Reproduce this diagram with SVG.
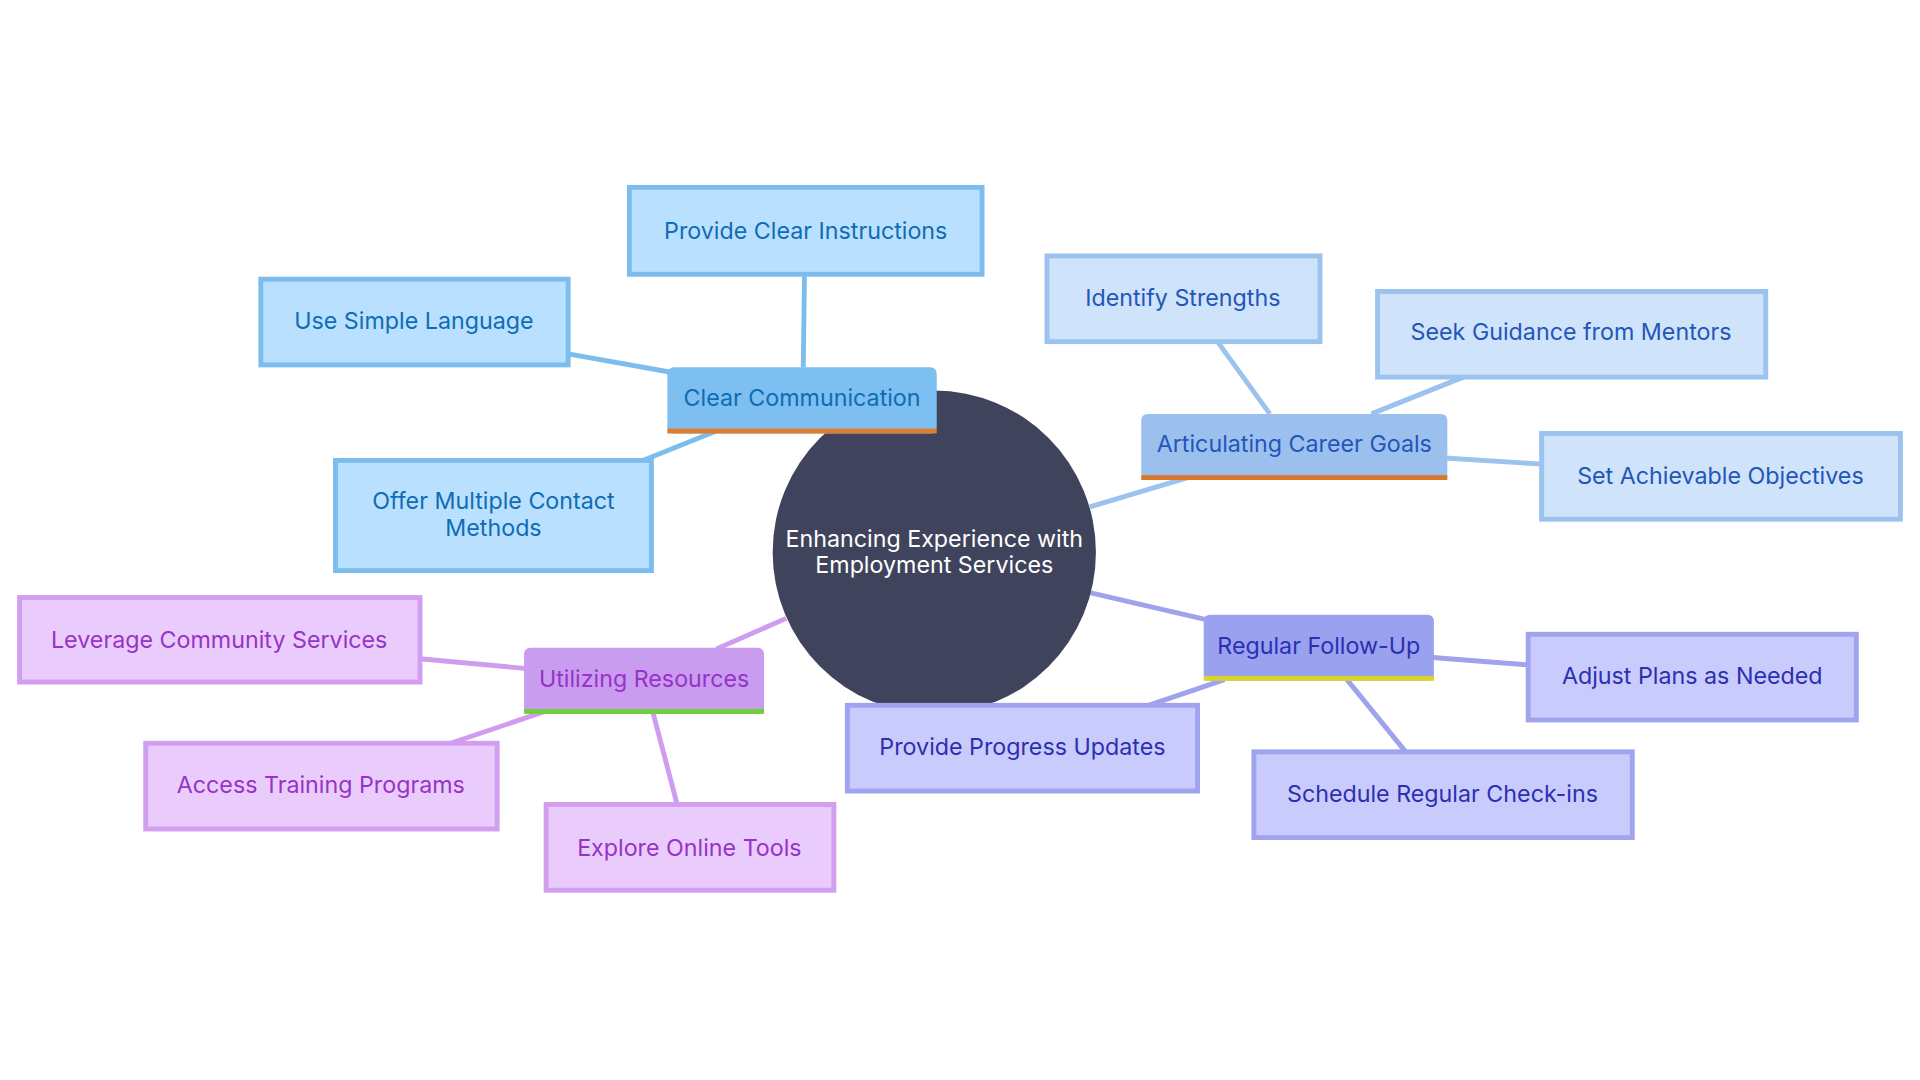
<svg xmlns="http://www.w3.org/2000/svg" width="1920" height="1080" viewBox="0 0 1920 1080">
<style>
text{font-family:Inter,"Noto Sans",sans-serif;font-size:19px;text-anchor:middle;dominant-baseline:central}
.e{stroke-width:4;fill:none}
.b{stroke:#7cbdee}.bl{stroke:#9cc2ee}.p{stroke:#9ea3ec}.v{stroke:#cf9cf0}
.lb rect{fill:#b9e1ff;stroke:#7cbdee;stroke-width:4}.lb text{fill:#0f6cb5}
.ll rect{fill:#cfe3fb;stroke:#9cc2ee;stroke-width:4}.ll text{fill:#2356b8}
.lp rect{fill:#c9cbfd;stroke:#a0a4ee;stroke-width:4}.lp text{fill:#2b30b0}
.lv rect{fill:#eaccfc;stroke:#d19ef0;stroke-width:4}.lv text{fill:#9633c8}
</style>
<rect width="1920" height="1080" fill="#fff"/>
<g transform="scale(1.2245)">
<g id="connectors">
<line class="e b" x1="763" y1="451" x2="655" y2="327"/>
<line class="e b" x1="525" y1="376" x2="590" y2="350"/>
<line class="e b" x1="464" y1="289" x2="548" y2="304"/>
<line class="e b" x1="657" y1="224" x2="656" y2="300"/>
<line class="e bl" x1="890" y1="414" x2="970" y2="390"/>
<line class="e bl" x1="995" y1="280" x2="1037" y2="338"/>
<line class="e bl" x1="1195" y1="308" x2="1120" y2="338"/>
<line class="e bl" x1="1180" y1="374" x2="1259" y2="379"/>
<line class="e p" x1="890" y1="484" x2="985" y2="506"/>
<line class="e p" x1="1170" y1="537" x2="1248" y2="543"/>
<line class="e p" x1="938" y1="576" x2="1000" y2="555"/>
<line class="e p" x1="1100" y1="555" x2="1148" y2="614"/>
<line class="e v" x1="642" y1="505" x2="585" y2="530"/>
<line class="e v" x1="343" y1="538" x2="430" y2="546"/>
<line class="e v" x1="368" y1="607" x2="445" y2="581"/>
<line class="e v" x1="533" y1="581" x2="553" y2="657"/>
</g>
<g id="center"><circle cx="763" cy="451" r="132" fill="#40435c"/>
<text x="763" y="440" fill="#fff" font-size="18">Enhancing Experience with</text>
<text x="763" y="461" fill="#fff" font-size="18">Employment Services</text></g>
<g id="clear-communication"><rect x="545" y="300" width="220" height="54" rx="5" fill="#7cbff0"/><rect x="545" y="350" width="220" height="4" fill="#e07a2c"/><text x="655" y="325" fill="#0f6cb5">Clear Communication</text></g>
<g id="provide-clear" class="lb"><rect x="514" y="153" width="288" height="71"/><text x="658" y="188">Provide Clear Instructions</text></g>
<g id="simple-language" class="lb"><rect x="213" y="228" width="251" height="70"/><text x="338" y="262">Use Simple Language</text></g>
<g id="contact-methods" class="lb"><rect x="274" y="376" width="258" height="90"/><text x="403" y="409">Offer Multiple Contact</text><text x="403" y="431">Methods</text></g>
<g id="career-goals"><rect x="932" y="338" width="250" height="54" rx="5" fill="#9cc0ee"/><rect x="932" y="388" width="250" height="4" fill="#d9792c"/><text x="1057" y="362" fill="#2356b8">Articulating Career Goals</text></g>
<g id="strengths" class="ll"><rect x="855" y="209" width="223" height="70"/><text x="966" y="243">Identify Strengths</text></g>
<g id="mentors" class="ll"><rect x="1125" y="238" width="317" height="70"/><text x="1283" y="271">Seek Guidance from Mentors</text></g>
<g id="objectives" class="ll"><rect x="1259" y="354" width="293" height="70"/><text x="1405" y="388">Set Achievable Objectives</text></g>
<g id="follow-up"><rect x="983" y="502" width="188" height="54" rx="5" fill="#9aa2f0"/><rect x="983" y="552" width="188" height="4" fill="#d8d42c"/><text x="1077" y="527" fill="#2b30b0">Regular Follow-Up</text></g>
<g id="adjust" class="lp"><rect x="1248" y="518" width="268" height="70"/><text x="1382" y="552">Adjust Plans as Needed</text></g>
<g id="progress" class="lp"><rect x="692" y="576" width="286" height="70"/><text x="835" y="610">Provide Progress Updates</text></g>
<g id="checkins" class="lp"><rect x="1024" y="614" width="309" height="70"/><text x="1178" y="648">Schedule Regular Check-ins</text></g>
<g id="resources"><rect x="428" y="529" width="196" height="54" rx="5" fill="#c99cf0"/><rect x="428" y="579" width="196" height="4" fill="#6fcf3a"/><text x="526" y="554" fill="#9633c8">Utilizing Resources</text></g>
<g id="community" class="lv"><rect x="16" y="488" width="327" height="69"/><text x="179" y="522">Leverage Community Services</text></g>
<g id="training" class="lv"><rect x="119" y="607" width="287" height="70"/><text x="262" y="641">Access Training Programs</text></g>
<g id="online" class="lv"><rect x="446" y="657" width="235" height="70"/><text x="563" y="692">Explore Online Tools</text></g>
</g>
</svg>
